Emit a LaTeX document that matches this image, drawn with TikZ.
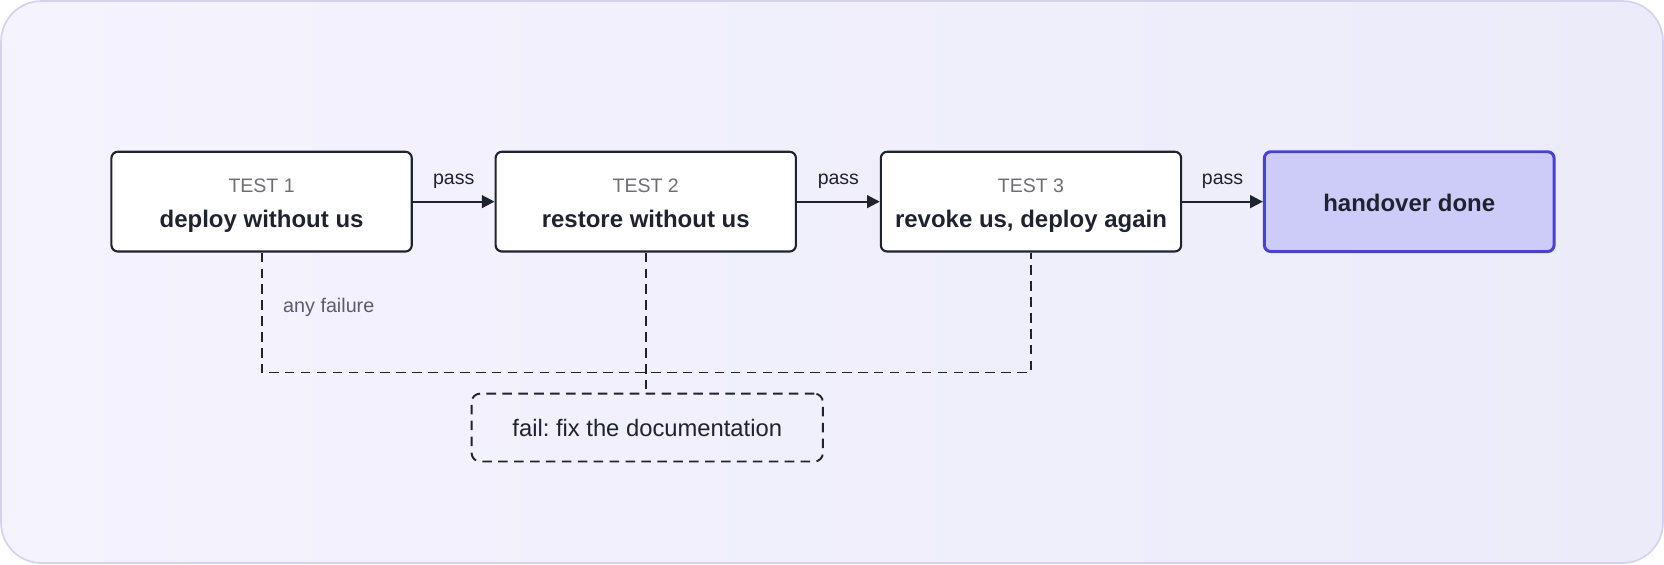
\documentclass[tikz,border=0pt]{standalone}
\usepackage{fontspec}
\setmainfont{Liberation Sans}
\frenchspacing
\usetikzlibrary{arrows.meta,positioning}

\definecolor{ink}{HTML}{1F2330}
\definecolor{testgray}{HTML}{6E6E73}
\definecolor{notegray}{HTML}{5C5C6E}
\definecolor{donefill}{HTML}{CDCBF8}
\definecolor{doneline}{HTML}{4A3FD6}
\definecolor{bgline}{HTML}{D3D3F0}
\definecolor{bgleft}{HTML}{F4F3FE}
\definecolor{bgright}{HTML}{ECEBF9}

\begin{document}
\begin{tikzpicture}[x=0.5pt,y=-0.5pt,
        stepbox/.style={draw=ink, line width=1pt, fill=white, rounded corners=3pt,
            minimum width=141.5pt, minimum height=47pt, inner sep=0pt},
        donebox/.style={stepbox, draw=doneline, line width=1.4pt, fill=donefill,
            minimum width=136.5pt},
        failbox/.style={draw=ink, line width=0.9pt, dash pattern=on 4.5pt off 3pt,
            rounded corners=4pt, minimum width=165.5pt, minimum height=32pt,
            inner sep=0pt, text=ink, font=\fontsize{11.2}{13}\selectfont},
        head/.style={anchor=base, inner sep=0pt, text=testgray,
            font=\fontsize{9.2}{11}\selectfont},
        title/.style={anchor=base, inner sep=0pt, text=ink,
            font=\fontsize{11.3}{13}\selectfont\bfseries},
        flow/.style={draw=ink, line width=1pt, -{Triangle[length=6pt,width=6pt]}},
        faildash/.style={draw=ink, line width=0.9pt, dash pattern=on 4.5pt off 3pt},
        passlbl/.style={above=5.5pt, inner sep=0pt, text=ink,
            font=\fontsize{9.2}{11}\selectfont},
        note/.style={anchor=west, inner sep=0pt, text=notegray,
            font=\fontsize{9.3}{11}\selectfont}]

    % frame
    \useasboundingbox (0,0) rectangle (1568,531.5);
    \draw[draw=bgline, line width=0.8pt, rounded corners=19pt,
        left color=bgleft, right color=bgright] (1,1) rectangle (1567,530.5);

    % the three tests and the end
    \node[stepbox] (t1) at (246.5,190) {};
    \node[stepbox, right=38.5pt of t1] (t2) {};
    \node[stepbox, right=39pt of t2] (t3) {};
    \node[donebox, right=38pt of t3] (done) {};

    \node[head] (t1h) at ([yshift=4.2pt]t1.center) {TEST 1};
    \node[title] (t1b) at ([yshift=-12.1pt]t1.center) {deploy without us};
    \node[head] (t2h) at ([yshift=4.2pt]t2.center) {TEST 2};
    \node[title] (t2b) at ([yshift=-12.1pt]t2.center) {restore without us};
    \node[head] (t3h) at ([yshift=4.2pt]t3.center) {TEST 3};
    \node[title] (t3b) at ([yshift=-12.1pt]t3.center) {revoke us, deploy again};
    \node[title] (doneb) at ([yshift=-4.75pt]done.center) {handover done};

    \draw[flow] (t1.east) -- node[passlbl] (p1) {pass} (t2.west);
    \draw[flow] (t2.east) -- node[passlbl] (p2) {pass} (t3.west);
    \draw[flow] (t3.east) -- node[passlbl] (p3) {pass} (done.west);

    % failure branch
    \node[failbox, below=66pt of t2, xshift=0.7pt] (fail) {fail: fix the documentation};
    \coordinate (jrow) at ([yshift=-56.5pt]t2.south);
    \draw[faildash] (t1.south) -- (t1.south |- jrow) -- (t3.south |- jrow) -- (t3.south);
    \draw[faildash] (t2.south) -- (t2.south |- fail.north);
    \node[note] (anyfail) at ([xshift=10pt,yshift=-25.8pt]t1.south) {any failure};
\end{tikzpicture}
\end{document}
